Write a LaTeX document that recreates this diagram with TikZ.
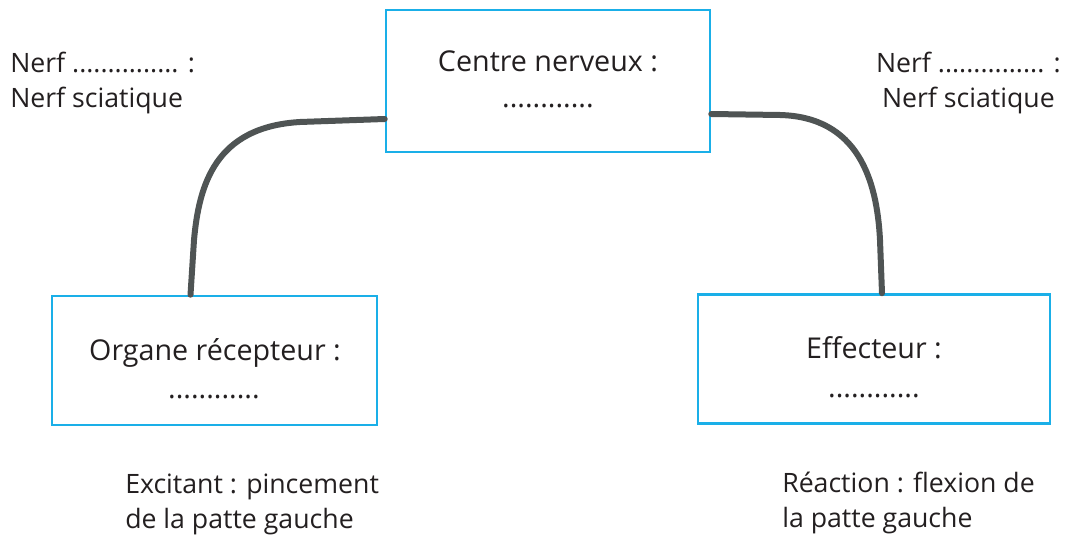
\documentclass[tikz,border=0pt]{standalone}
\usepackage{fontspec}
\setmainfont{Open Sans}
\definecolor{boxblue}{HTML}{1AAFE8}
\definecolor{nervegray}{HTML}{4F5454}
\definecolor{txt}{HTML}{231F20}
\begin{document}
\begin{tikzpicture}[x=0.75pt,y=-0.75pt,
  organbox/.style={draw=boxblue,line width=1.9pt,inner sep=0pt},
  lbl/.style={inner sep=0pt,text=txt,font=\fontsize{21.5}{27.75}\selectfont},
  side/.style={inner sep=0pt,text=txt,font=\fontsize{20}{26.25}\selectfont},
  nerve/.style={draw=nervegray,line width=4.5pt,line cap=round}]
\useasboundingbox (0,0) rectangle (1071,535);
% boxes
\node[organbox,minimum width=243pt,minimum height=106.5pt] (centre) at (548,81) {};
\node[organbox,minimum width=243.75pt,minimum height=96.75pt] (recep) at (214.5,360.5) {};
\node[organbox,minimum width=264pt,minimum height=96.75pt] (effect) at (874,359) {};
% box texts
\node[lbl,anchor=base] (tcentre) at (548,72) {Centre nerveux :};
\node[lbl,anchor=base] (dcentre) at (548,108) {............};
\node[lbl,anchor=base] (trecep) at (215,360) {Organe récepteur :};
\node[lbl,anchor=base] (drecep) at (214,398) {............};
\node[lbl,anchor=base] (teffect) at (874,358) {Effecteur :};
\node[lbl,anchor=base] (deffect) at (874,397) {............};
% side texts (base anchor = last line baseline)
\node[side,anchor=base west,align=left] (nerfl) at (10,108) {Nerf ............... :\\Nerf sciatique};
\node[side,anchor=base east,align=center] (nerfr) at (1061,108) {Nerf ............... :\\Nerf sciatique};
\node[side,anchor=base west,align=left] (excit) at (125,528) {Excitant : pincement\\de la patte gauche};
\node[side,anchor=base west,align=left] (react) at (782,527) {Réaction : flexion de\\la patte gauche};
% nerves
\draw[nerve] ([yshift=-28.5pt]centre.west) -- (300,122) .. controls (215,127) and (199,185) .. (194,240) -- ([xshift=-18pt]recep.north);
\draw[nerve] ([yshift=-24.75pt]centre.east) -- (780,115) .. controls (858,117) and (877,180) .. (880,240) -- ([xshift=6pt]effect.north);
\end{tikzpicture}
\end{document}
